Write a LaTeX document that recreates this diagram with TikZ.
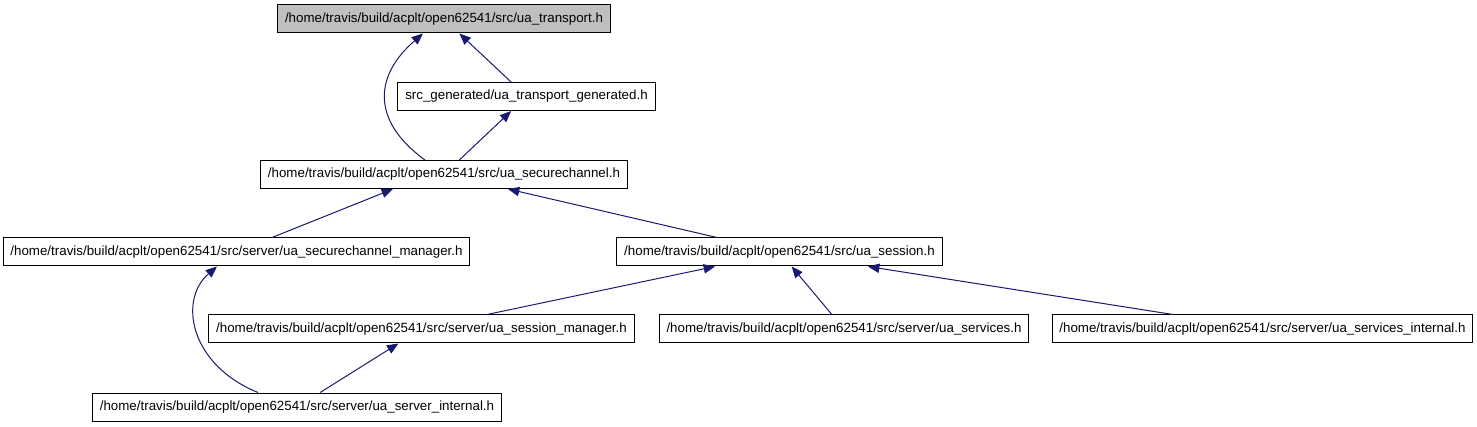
\documentclass[tikz,border=0pt]{standalone}
\usepackage{fontspec}
\setmainfont{Liberation Sans}
\usetikzlibrary{arrows.meta,calc}
\definecolor{edgeblue}{RGB}{25,25,112}
\definecolor{rootgray}{RGB}{191,191,191}
\begin{document}
\begin{tikzpicture}[x=0.75pt, y=-0.75pt, line width=0.75pt,
    font=\fontsize{10pt}{12pt}\selectfont,
    box/.style={draw=black, fill=white, rectangle, inner xsep=5.5pt, inner ysep=0pt, minimum height=21pt},
    dep/.style={draw=edgeblue, -{Triangle[length=8.5pt, width=7pt]}}]
  \useasboundingbox (0,0) rectangle (1477,427);
  \node[box, fill=rootgray] (tr) at (444,19) {/home/travis/build/acplt/open62541/src/ua\_transport.h};
  \node[box] (gen) at (526.5,96.5) {src\_generated/ua\_transport\_generated.h};
  \node[box] (sc) at (444,174.5) {/home/travis/build/acplt/open62541/src/ua\_securechannel.h};
  \node[box] (scm) at (236.5,252) {/home/travis/build/acplt/open62541/src/server/ua\_securechannel\_manager.h};
  \node[box] (ses) at (779.5,252) {/home/travis/build/acplt/open62541/src/ua\_session.h};
  \node[box] (sm) at (421.5,329) {/home/travis/build/acplt/open62541/src/server/ua\_session\_manager.h};
  \node[box] (svc) at (844,329) {/home/travis/build/acplt/open62541/src/server/ua\_services.h};
  \node[box] (svci) at (1262.5,329) {/home/travis/build/acplt/open62541/src/server/ua\_services\_internal.h};
  \node[box] (srv) at (297,407) {/home/travis/build/acplt/open62541/src/server/ua\_server\_internal.h};
  % edges point from the including file up to the included one
  \draw[dep] ($(sc.north)+(-19,0)$) .. controls (370,120) and (375,75) .. ($(tr.south)+(-21,0)$);
  \draw[dep] (gen) -- (tr);
  \draw[dep] (sc) -- (gen);
  \draw[dep] ($(scm.north)+(35.5,0)$) -- ($(sc.south)+(-51,0)$);
  \draw[dep] ($(ses.north)+(-62.5,0)$) -- ($(sc.south)+(64,0)$);
  \draw[dep] ($(sm.north)+(65.5,0)$) -- ($(ses.south)+(-64.5,0)$);
  \draw[dep] (svc) -- (ses);
  \draw[dep] ($(svci.north)+(-89.5,0)$) -- ($(ses.south)+(88.5,0)$);
  \draw[dep] ($(srv.north)+(-39,0)$) .. controls (190,365) and (178,300) .. ($(scm.south)+(-19.5,0)$);
  \draw[dep] (srv) -- (sm);
\end{tikzpicture}
\end{document}
